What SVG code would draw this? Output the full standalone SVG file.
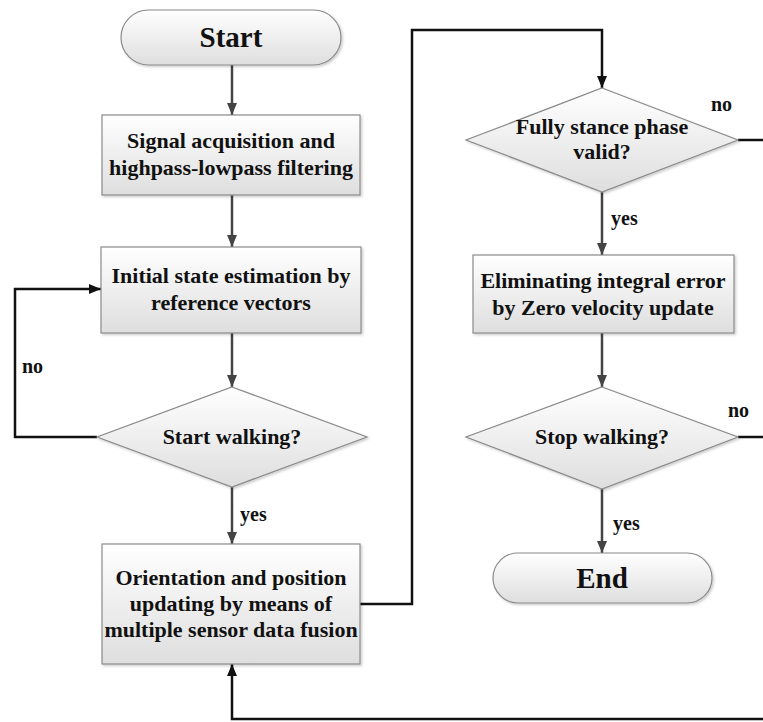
<svg xmlns="http://www.w3.org/2000/svg" width="763" height="722" viewBox="0 0 763 722">
  <defs>
    <linearGradient id="fillGrad" x1="0" y1="0" x2="0" y2="1">
      <stop offset="0" stop-color="#ffffff"/>
      <stop offset="1" stop-color="#dedede"/>
    </linearGradient>
    <marker id="arrGray" viewBox="0 0 12 10" refX="12" refY="5" markerWidth="12" markerHeight="10" markerUnits="userSpaceOnUse" orient="auto">
      <path d="M0,0 L12,5 L0,10 Z" fill="#444"/>
    </marker>
    <marker id="arrBlack" viewBox="0 0 12 10" refX="12" refY="5" markerWidth="12" markerHeight="10" markerUnits="userSpaceOnUse" orient="auto">
      <path d="M0,0 L12,5 L0,10 Z" fill="#111"/>
    </marker>
    <filter id="shadow" x="-5%" y="-5%" width="115%" height="120%">
      <feDropShadow dx="1.5" dy="1.5" stdDeviation="1" flood-color="#000" flood-opacity="0.2"/>
    </filter>
  </defs>
  <style>
    .shape { fill: url(#fillGrad); stroke: #8a8a8a; stroke-width: 1.2; filter: url(#shadow); }
    .txt { font-family: "Liberation Serif", "Times New Roman", serif; font-weight: bold; font-size: 22px; fill: #111; text-anchor: middle; }
    .big { font-size: 29px; }
    .lbl { font-family: "Liberation Serif", "Times New Roman", serif; font-weight: bold; font-size: 20px; fill: #111; }
    .flow { fill: none; stroke: #444; stroke-width: 2.5; marker-end: url(#arrGray); }
    .loop { fill: none; stroke: #111; stroke-width: 2.5; }
    .loopArr { fill: none; stroke: #111; stroke-width: 2.5; marker-end: url(#arrBlack); }
  </style>

  <g id="connectors">
    <path class="flow" d="M232,65 V115"/>
    <path class="flow" d="M232,195 V247"/>
    <path class="flow" d="M232,333 V387"/>
    <path class="flow" d="M232,487 V544"/>
    <path class="loopArr" d="M97,437 H15 V289 H101"/>
    <path class="loopArr" d="M360,604 H412 V30 H602 V88"/>
    <path class="flow" d="M602,192 V255"/>
    <path class="flow" d="M602,333 V387"/>
    <path class="flow" d="M602,489 V553"/>
    <path class="loop" d="M738,140 H763"/>
    <path class="loop" d="M738,437 H763"/>
    <path class="loopArr" d="M763,719 H232 V664"/>
    <text class="lbl" x="22" y="373">no</text>
    <text class="lbl" x="240" y="521">yes</text>
    <text class="lbl" x="711" y="111">no</text>
    <text class="lbl" x="611" y="225">yes</text>
    <text class="lbl" x="728" y="417">no</text>
    <text class="lbl" x="613" y="530">yes</text>
  </g>

  <g id="start">
    <rect class="shape" x="121" y="10" width="220" height="55" rx="27.5"/>
    <text class="txt big" x="231" y="47">Start</text>
  </g>

  <g id="acquisition">
    <rect class="shape" x="102" y="115" width="258" height="80"/>
    <text class="txt" x="231" y="148">Signal acquisition and</text>
    <text class="txt" x="231" y="175">highpass-lowpass filtering</text>
  </g>

  <g id="initial-state">
    <rect class="shape" x="101" y="247" width="260" height="86"/>
    <text class="txt" x="231" y="283">Initial state estimation by</text>
    <text class="txt" x="231" y="310">reference vectors</text>
  </g>

  <g id="start-walking">
    <polygon class="shape" points="232,387 367,437 232,487 97,437"/>
    <text class="txt" x="232" y="444">Start walking?</text>
  </g>

  <g id="fusion">
    <rect class="shape" x="102" y="544" width="258" height="120"/>
    <text class="txt" x="231" y="585">Orientation and position</text>
    <text class="txt" x="231" y="611">updating by means of</text>
    <text class="txt" x="231" y="637">multiple sensor data fusion</text>
  </g>

  <g id="stance-valid">
    <polygon class="shape" points="602,88 738,140 602,192 466,140"/>
    <text class="txt" x="602" y="134">Fully stance phase</text>
    <text class="txt" x="602" y="159">valid?</text>
  </g>

  <g id="zupt">
    <rect class="shape" x="473" y="255" width="261" height="78"/>
    <text class="txt" x="603" y="288">Eliminating integral error</text>
    <text class="txt" x="603" y="315">by Zero velocity update</text>
  </g>

  <g id="stop-walking">
    <polygon class="shape" points="602,387 738,437 602,489 466,437"/>
    <text class="txt" x="602" y="444">Stop walking?</text>
  </g>

  <g id="end">
    <rect class="shape" x="493" y="553" width="219" height="50" rx="25"/>
    <text class="txt big" x="602" y="588">End</text>
  </g>
</svg>
